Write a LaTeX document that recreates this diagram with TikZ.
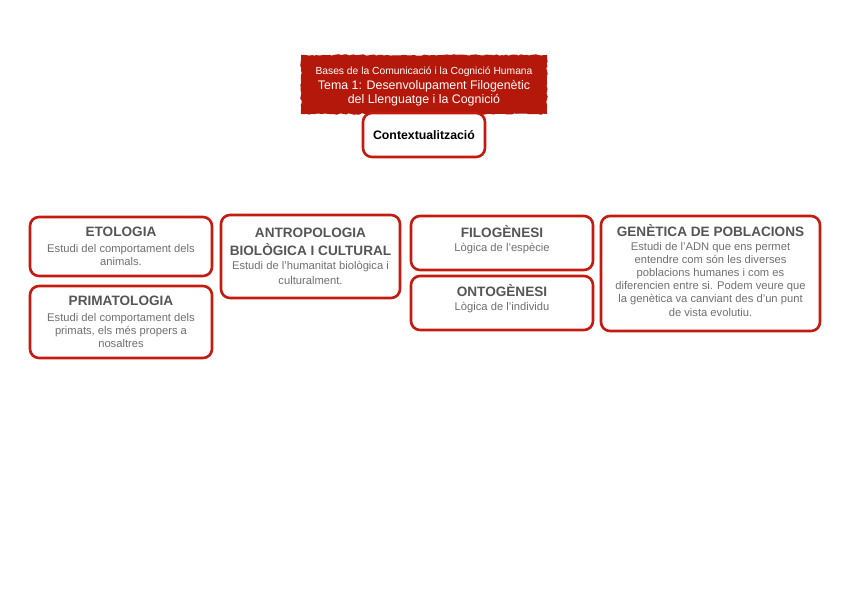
\documentclass[tikz,border=0pt]{standalone}
\usepackage{fontspec}
\setmainfont{Liberation Sans}
\usetikzlibrary{decorations.pathmorphing}
\definecolor{boxred}{HTML}{C31B0F}
\definecolor{titlered}{HTML}{B4180B}
\definecolor{headgray}{HTML}{555555}
\definecolor{bodygray}{HTML}{707070}
\newcommand{\hdfont}{\fontsize{13.6}{16.5}\selectfont\bfseries\color{headgray}}
\newcommand{\bdfont}{\fontsize{11.2}{13.2}\selectfont\color{bodygray}}
\newcommand{\dep}[1]{\rule[-#1]{0pt}{#1}}
\begin{document}
\begin{tikzpicture}[x=1pt,y=-1pt,
  topic/.style={draw=boxred, line width=2.6pt, rounded corners=9pt, fill=white,
    align=center, inner sep=2pt, font=\bdfont},
  titlebox/.style={fill=titlered, draw=titlered, line width=1pt, align=center,
    text=white, inner sep=2pt,
    decorate, decoration={random steps, segment length=2.5pt, amplitude=0.7pt}}]
\useasboundingbox[fill=white] (0,0) rectangle (848,599);

\node[titlebox, minimum width=245pt, minimum height=58pt,
  font=\fontsize{12.4}{14.6}\selectfont] (title) at (424,84.5)
  {\rule{0pt}{12pt}{\fontsize{10.3}{13}\selectfont Bases de la Comunicació i la Cognició Humana}\\
   Tema 1: Desenvolupament Filogenètic\\
   del Llenguatge i la Cognició};

\node[topic, minimum width=122pt, minimum height=44pt, font=\fontsize{12.3}{14}\selectfont\bfseries] (ctx) at (424,135)
  {Contextualització};

\node[topic, minimum width=182pt, minimum height=59pt] (eto) at (121,246.5)
  {{\hdfont ETOLOGIA}\\[2pt] Estudi del comportament dels\\ animals.};

\node[topic, minimum width=182pt, minimum height=72pt] (prim) at (121,322)
  {{\hdfont PRIMATOLOGIA}\\[3pt] Estudi del comportament dels\\ primats, els més propers a\\ nosaltres};

\node[topic, minimum width=179pt, minimum height=83pt] (antro) at (310.5,256.5)
  {{\hdfont ANTROPOLOGIA}\\[4pt] {\hdfont BIOLÒGICA I CULTURAL}\\[1pt] Estudi de l'humanitat biològica i\\[2pt] culturalment.};

\node[topic, minimum width=182pt, minimum height=54pt] (filo) at (502,243)
  {{\hdfont FILOGÈNESI}\\[1.5pt] Lògica de l'espècie\dep{9pt}};

\node[topic, minimum width=182pt, minimum height=54pt] (onto) at (502,303)
  {{\hdfont ONTOGÈNESI}\\[1pt] Lògica de l'individu\dep{11pt}};

\node[topic, minimum width=219pt, minimum height=115pt] (gen) at (710.5,273.5)
  {{\hdfont GENÈTICA DE POBLACIONS}\\ Estudi de l'ADN que ens permet\\ entendre com són les diverses\\
   poblacions humanes i com es\\ diferencien entre si. Podem veure que\\
   la genètica va canviant des d'un punt\\ de vista evolutiu.\dep{6pt}};
\end{tikzpicture}
\end{document}
